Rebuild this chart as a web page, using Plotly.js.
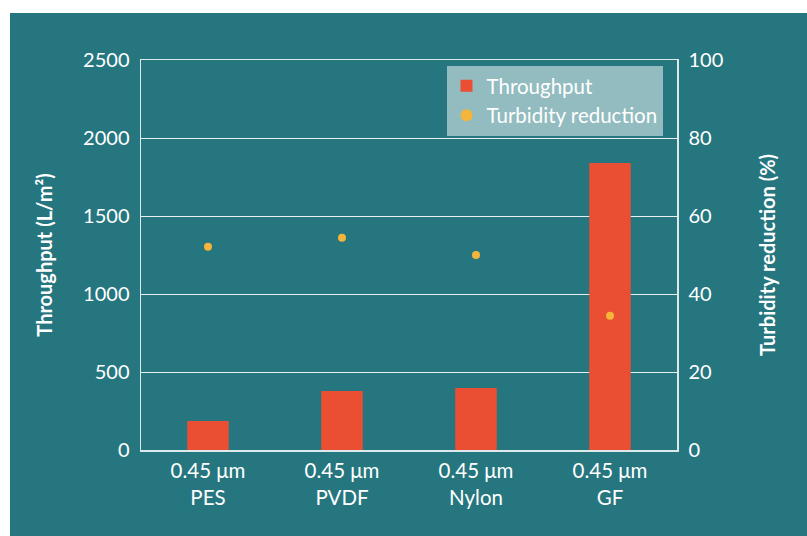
<!DOCTYPE html>
<html>
<head>
<meta charset="utf-8">
<script src="https://cdn.plot.ly/plotly-3.0.1.min.js"></script>
<style>
html,body{margin:0;padding:0;background:#ffffff;}
#chart{position:absolute;left:10px;top:13px;width:797px;height:523px;}
</style>
</head>
<body>
<div id="chart"></div>
<script>
const categories = ["0.45 μm<br>PES", "0.45 μm<br>PVDF", "0.45 μm<br>Nylon", "0.45 μm<br>GF"];
const throughput = [186, 378, 397, 1840];
const turbidityReduction = [52.1, 54.4, 50.0, 34.4];
const leftTicks = [0, 500, 1000, 1500, 2000, 2500];
const rightTicks = [0, 20, 40, 60, 80, 100];

const teal = "#26767f";
const fontFamily = "Lato, 'Open Sans', sans-serif";

const traces = [
  {
    type: "bar",
    name: "Throughput",
    x: categories,
    y: throughput,
    marker: {color: "#ea4e33"},
    width: 0.31,
    yaxis: "y"
  },
  {
    type: "scatter",
    mode: "markers",
    name: "Turbidity reduction",
    x: categories,
    y: turbidityReduction,
    marker: {color: "#f4b53a", size: 8},
    yaxis: "y2"
  }
];

const layout = {
  width: 797,
  height: 523,
  paper_bgcolor: teal,
  plot_bgcolor: teal,
  margin: {l: 131, r: 130, t: 47, b: 86},
  font: {family: fontFamily, color: "#ffffff", size: 20},
  showlegend: true,
  legend: {
    x: 0.57, y: 0.985, xanchor: "left", yanchor: "top",
    bgcolor: "#92bcc0",
    font: {size: 20.5, color: "#ffffff", family: fontFamily},
    tracegroupgap: 0,
    itemsizing: "constant"
  },
  xaxis: {
    type: "category",
    showgrid: false,
    showline: true,
    linecolor: "#dde9ea",
    linewidth: 1.5,
    mirror: true,
    ticks: "outside",
    ticklen: 2,
    tickcolor: "rgba(0,0,0,0)",
    tickfont: {size: 20.5, color: "#ffffff"},
    fixedrange: true
  },
  yaxis: {
    range: [0, 2500],
    tickvals: leftTicks,
    ticktext: leftTicks.map(String),
    showgrid: true,
    gridcolor: "#e6f0f1",
    gridwidth: 1,
    zeroline: false,
    showline: true,
    linecolor: "#dde9ea",
    linewidth: 1.5,
    ticks: "outside",
    ticklen: 6,
    tickcolor: "rgba(0,0,0,0)",
    tickfont: {size: 20, color: "#ffffff"},
    title: {text: "<b>Throughput (L/m²)</b>", font: {size: 20, color: "#ffffff"}, standoff: 25}
  },
  yaxis2: {
    overlaying: "y",
    side: "right",
    range: [0, 100],
    tickvals: rightTicks,
    ticktext: rightTicks.map(String),
    showgrid: false,
    zeroline: false,
    showline: true,
    linecolor: "#dde9ea",
    linewidth: 1.5,
    ticks: "outside",
    ticklen: 6,
    tickcolor: "rgba(0,0,0,0)",
    tickfont: {size: 20, color: "#ffffff"},
    title: {text: "<b>Turbidity reduction (%)</b>", font: {size: 20, color: "#ffffff"}, standoff: 38}
  }
};

Plotly.newPlot("chart", traces, layout, {displayModeBar: false, staticPlot: true});
</script>
</body>
</html>
